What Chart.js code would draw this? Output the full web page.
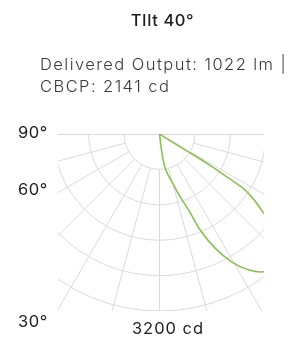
<!DOCTYPE html>
<html>
<head>
<meta charset="utf-8">
<script src="https://cdn.jsdelivr.net/npm/chart.js@4/dist/chart.umd.min.js"></script>
<style>
  html, body { margin: 0; padding: 0; background: #fff; }
  #wrap { position: relative; width: 305px; height: 339px; overflow: hidden; font-family: Inter, "Open Sans", sans-serif; }
  canvas { position: absolute; left: 0; top: 0; }
  .t { position: absolute; white-space: nowrap; color: #1e1e1e; }
  #title { left: 0; width: 325px; text-align: center; top: 10px; font-size: 16.5px; font-weight: 500; line-height: 20px; letter-spacing: 0.6px; }
  .sub { left: 40px; font-size: 16.5px; font-weight: 300; color: #3a3a3a; line-height: 20px; letter-spacing: 1.45px; }
  .lab { left: 18px; font-size: 16.5px; font-weight: 400; line-height: 20px; letter-spacing: 0.6px; }
  #scale { left: 0; width: 336px; text-align: center; top: 318px; font-size: 16.5px; font-weight: 400; line-height: 20px; letter-spacing: 1px; }
</style>
</head>
<body>
<div id="wrap">
  <canvas id="c" width="305" height="339"></canvas>
  <div class="t" id="title"></div>
  <div class="t sub" id="sub1" style="top:54px"></div>
  <div class="t sub" id="sub2" style="top:76px"></div>
  <div class="t lab" id="lab0" style="top:122px"></div>
  <div class="t lab" id="lab1" style="top:179px"></div>
  <div class="t lab" id="lab2" style="top:311px"></div>
  <div class="t" id="scale"></div>
</div>
<script>
// ---- data ----
const titleText = "TIlt 40\u00B0";
const subtitleLines = ["Delivered Output: 1022 lm |", "CBCP: 2141 cd"];
const angleLabels = ["90\u00B0", "60\u00B0", "30\u00B0"];
const scaleLabel = "3200 cd";
const maxCandela = 3200;
const ringValues = [640, 1280, 1920, 2560, 3200];
const rayAngles = [-75, -60, -45, -30, -15, 0, 15, 30, 45, 60, 75];
// angle from nadir (deg) and candela of the tilted distribution
const curveAngles = [4, 7, 9, 12, 15, 18, 21, 23, 26, 29.5, 33, 37, 41, 45, 50, 53, 55, 56.8, 57.5, 58.2, 58.4, 58, 58];
const curveCandela = [0, 290, 600, 760, 920, 1180, 1480, 1890, 2300, 2660, 2920, 3120, 3180, 3150, 2800, 2340, 2100, 1850, 1450, 1050, 650, 230, 0];

document.getElementById('title').textContent = titleText;
document.getElementById('sub1').textContent = subtitleLines[0];
document.getElementById('sub2').textContent = subtitleLines[1];
angleLabels.forEach((s, i) => document.getElementById('lab' + i).textContent = s);
document.getElementById('scale').textContent = scaleLabel;

const rad = d => d * Math.PI / 180;
const points = curveAngles.map((a, i) => ({
  x: curveCandela[i] * Math.sin(rad(a)),
  y: -curveCandela[i] * Math.cos(rad(a))
}));

const polarGrid = {
  id: 'polarGrid',
  beforeDatasetsDraw(chart) {
    const { ctx, chartArea: ca, scales: { x, y } } = chart;
    const cx = x.getPixelForValue(0), cy = y.getPixelForValue(0);
    const k = (x.getPixelForValue(maxCandela) - cx) / maxCandela;
    ctx.save();
    ctx.beginPath();
    ctx.rect(ca.left, ca.top, ca.right - ca.left, ca.bottom - ca.top);
    ctx.clip();
    ctx.strokeStyle = '#dadada';
    ctx.lineWidth = 1;
    ctx.beginPath();
    ctx.moveTo(ca.left, cy + 0.5);
    ctx.lineTo(ca.right, cy + 0.5);
    ctx.stroke();
    ringValues.forEach(v => {
      ctx.beginPath();
      ctx.arc(cx, cy, v * k, 0, Math.PI);
      ctx.stroke();
    });
    const r0 = ringValues[0] * k, r1 = maxCandela * 2 * k;
    rayAngles.forEach(a => {
      const s = Math.sin(rad(a)), c = Math.cos(rad(a));
      ctx.beginPath();
      ctx.moveTo(cx + r0 * s, cy + r0 * c);
      ctx.lineTo(cx + r1 * s, cy + r1 * c);
      ctx.stroke();
    });
    ctx.restore();
  }
};

new Chart(document.getElementById('c'), {
  type: 'scatter',
  data: {
    datasets: [{
      data: points,
      showLine: true,
      borderColor: '#8cbf55',
      borderWidth: 1.6,
      pointRadius: 0,
      tension: 0.3,
      fill: false,
      clip: 0
    }]
  },
  options: {
    responsive: false,
    animation: false,
    layout: { padding: { left: 58, right: 41, top: 134, bottom: 28 } },
    scales: {
      x: { type: 'linear', display: false, min: -1835, max: 1889 },
      y: { type: 'linear', display: false, min: -maxCandela, max: 0 }
    },
    plugins: { legend: { display: false }, tooltip: { enabled: false } }
  },
  plugins: [polarGrid]
});
</script>
</body>
</html>
